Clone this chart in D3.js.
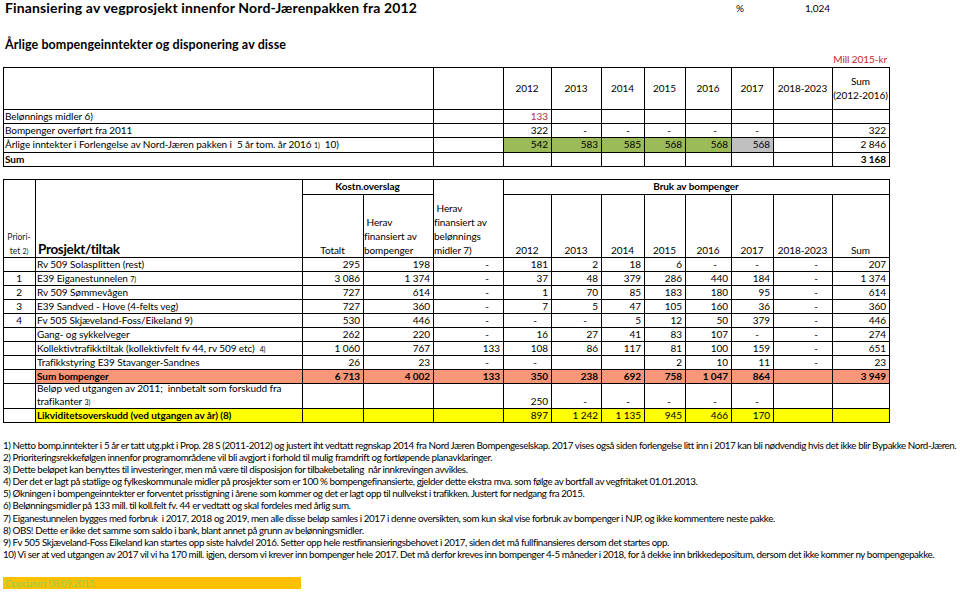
<!DOCTYPE html>
<html>
<head>
<meta charset="utf-8">
<script src="https://cdn.jsdelivr.net/npm/d3@7"></script>
<style>
  body { margin: 0; background: #fff; }
  svg { display: block; }
  text { font-family: Lato, "Open Sans", sans-serif; white-space: pre; fill: #000; }
</style>
</head>
<body>
<div id="chart"></div>
<script>
// ---- texts ----
const title = 'Finansiering av vegprosjekt innenfor Nord-Jærenpakken fra 2012';
const subtitle = 'Årlige bompengeinntekter og disponering av disse';
const percentLabel = '%';
const percentValue = '1,024';
const unitLabel = 'Mill 2015-kr';

// ---- top table: yearly toll income ----
const periods = ['2012', '2013', '2014', '2015', '2016', '2017', '2018-2023'];
const incomeSumHeader = ['Sum', '(2012-2016)'];
const incomeLabels = [
    'Belønnings midler 6)',
    'Bompenger overført fra 2011',
    'Årlige inntekter i Forlengelse av Nord-Jæren pakken i  5 år tom. år 2016 ^1)^  10)',
    'Sum'
];
// values per period + sum column; 0 is shown as "-", null is blank
const rewardIncome = [133, null, null, null, null, null, null, null];
const transferredIncome = [322, 0, 0, 0, 0, 0, null, 322];
const yearlyIncome = [542, 583, 585, 568, 568, 568, null, 2846];
const incomeTotal = [null, null, null, null, null, null, null, 3168];

// ---- bottom table: projects ----
const priorities = ['', '1', '2', '3', '4', '', '', '', '', '', ''];
const projects = [
    'Rv 509 Solasplitten (rest)',
    'E39 Eiganestunnelen ^7)^',
    'Rv 509 Sømmevågen',
    'E39 Sandved - Hove (4-felts veg)',
    'Fv 505 Skjæveland-Foss/Eikeland 9)',
    'Gang- og sykkelveger',
    'Kollektivtrafikktiltak (kollektivfelt fv 44, rv 509 etc)  ^4)^',
    'Trafikkstyring E39 Stavanger-Sandnes',
    'Sum bompenger',
    'Beløp ved utgangen av 2011;  innbetalt som forskudd fra|trafikanter ^3)^',
    'Likviditetsoverskudd (ved utgangen av år) (8)'
];
const totalCost     = [295, 3086, 727, 727, 530, 262, 1060, 26, 6713, null, null];
const tollFinanced  = [198, 1374, 614, 360, 446, 220, 767, 23, 4002, null, null];
const rewardFinanced = [0, 0, 0, 0, 0, 0, 133, 0, 133, null, null];
const use2012 = [181, 37, 1, 7, 0, 16, 108, 0, 350, 250, 897];
const use2013 = [2, 48, 70, 5, 0, 27, 86, null, 238, 0, 1242];
const use2014 = [18, 379, 85, 47, 5, 41, 117, null, 692, 0, 1135];
const use2015 = [6, 286, 183, 105, 12, 83, 81, 2, 758, 0, 945];
const use2016 = [0, 440, 180, 160, 50, 107, 100, 10, 1047, 0, 466];
const use2017 = [0, 184, 95, 36, 379, 0, 159, 11, 864, 0, 170];
const use2018to2023 = [0, 0, 0, 0, 0, 0, 0, 0, null, null, null];
const useSum = [207, 1374, 614, 360, 446, 274, 651, 23, 3949, null, null];

const costHeader = 'Kostn.overslag';
const useHeader = 'Bruk av bompenger';
const prioHeader = ['Priori-', 'tet ^2)^'];
const projectHeader = 'Prosjekt/tiltak';
const totalHeader = 'Totalt';
const tollHeader = [' Herav', 'finansiert av', 'bompenger'];
const rewardHeader = [' Herav', 'finansiert av', 'belønnings', 'midler 7)'];
const useSumHeader = 'Sum';

const footnotes = [
    '1) Netto bomp.inntekter i 5 år er tatt utg.pkt i Prop. 28 S (2011-2012) og justert iht vedtatt regnskap 2014 fra Nord Jæren Bompengeselskap. 2017 vises også siden forlengelse litt inn i 2017 kan bli nødvendig hvis det ikke blir Bypakke Nord-Jæren.',
    '2) Prioriteringsrekkefølgen innenfor programområdene vil bli avgjort i forhold til mulig framdrift og fortløpende planavklaringer.',
    '3) Dette beløpet kan benyttes til investeringer, men må være til disposisjon for tilbakebetaling  når innkrevingen avvikles.',
    '4) Der det er lagt på statlige og fylkeskommunale midler på prosjekter som er 100 % bompengefinansierte, gjelder dette ekstra mva. som følge av bortfall av vegfritaket 01.01.2013.',
    '5) Økningen i bompengeinntekter er forventet prisstigning i årene som kommer og det er lagt opp til nullvekst i trafikken. Justert for nedgang fra 2015.',
    '6) Belønningsmidler på 133 mill. til koll.felt fv. 44 er vedtatt og skal fordeles med årlig sum.',
    '7) Eiganestunnelen bygges med forbruk  i 2017, 2018 og 2019, men alle disse beløp samles i 2017 i denne oversikten, som kun skal vise forbruk av bompenger i NJP, og ikke kommentere neste pakke.',
    '8) OBS! Dette er ikke det samme som saldo i bank, blant annet på grunn av belønningsmidler.',
    '9) Fv 505 Skjæveland-Foss Eikeland kan startes opp siste halvdel 2016. Setter opp hele restfinansieringsbehovet i 2017, siden det må fullfinansieres dersom det startes opp.',
    '10) Vi ser at ved utgangen av 2017 vil vi ha 170 mill. igjen, dersom vi krever inn bompenger hele 2017. Det må derfor kreves inn bompenger 4-5 måneder i 2018, for å dekke inn brikkedepositum, dersom det ikke kommer ny bompengepakke.'
];
const updatedNote = 'Oppdatert 08.09.2015';

// ---- layout ----
const w = 960;
const h = 592;
const left = 3;
const lineColor = '#000';

const svg = d3.select('#chart')
              .append('svg')
              .attr('width', w)
              .attr('height', h);

svg.append('rect').attr('width', w).attr('height', h).attr('fill', '#fff');

// columns shared by both tables
const colKeys = ['prio', 'name', 'tot', 'toll', 'reward', ...periods, 'sum'];
const colWidths = [32, 267, 61, 70, 70, 48, 50, 43, 41, 46, 42, 59, 57];
const colEdges = d3.cumsum([left, ...colWidths]);
const xCol = d3.scaleOrdinal().domain(colKeys).range(colEdges.slice(0, -1));
const wCol = d3.scaleOrdinal().domain(colKeys).range(colWidths);
const right = colEdges[colEdges.length - 1];
const xEnd = k => xCol(k) + wCol(k);

// rows
const topKeys = ['head', 0, 1, 2, 3];
const topHeights = [42, 14, 14, 15, 14];
const topEdges = d3.cumsum([67, ...topHeights]);
const yTop = d3.scaleOrdinal().domain(topKeys).range(topEdges.slice(0, -1));
const hTop = d3.scaleOrdinal().domain(topKeys).range(topHeights);

const botKeys = ['head', ...d3.range(projects.length)];
const botHeights = [78, 14, 14, 14, 14, 14, 14, 14, 14, 14, 25, 14];
const botEdges = d3.cumsum([179, ...botHeights]);
const yBot = d3.scaleOrdinal().domain(botKeys).range(botEdges.slice(0, -1));
const hBot = d3.scaleOrdinal().domain(botKeys).range(botHeights);

// Calibri-like look: Lato a bit larger, tightened to the reference widths
const fitSpacing = (txt, target, size, weight) => {
    const t = svg.append('text').attr('font-size', size).attr('font-weight', weight || 'normal').text(txt);
    const len = t.node().getComputedTextLength();
    t.remove();
    return (target - len) / txt.length;
};
const fsBody = 10;
const lsBody = fitSpacing('Kollektivtrafikktiltak (kollektivfelt fv 44, rv 509 etc)', 218, fsBody);
const fsNote = 9.8;
const lsNote = fitSpacing(footnotes[0], 952, fsNote);
const fsTitle = 14;
const lsTitle = fitSpacing(title, 412, fsTitle, 'bold');
const fsSub = 12.5;
const lsSub = fitSpacing(subtitle, 281, fsSub, 'bold');
const fsProj = 13.5;
const lsProj = fitSpacing(projectHeader, 82, fsProj, 'bold');
const fsSmall = 7;

const fmt = v => d3.format(',')(v).replace(/,/g, ' ');

const body = sel => sel.attr('font-size', fsBody).attr('letter-spacing', lsBody);

const richText = (sel, str) => {
    str.split('^').forEach((part, i) => {
        const t = sel.append('tspan').text(part);
        if (i % 2) t.attr('font-size', fsSmall);
    });
};

const valueCell = (g, key, y, v, bold, color) => {
    if (v === null) return;
    const t = g.append('text')
               .attr('y', y)
               .call(body)
               .attr('font-weight', bold ? 'bold' : 'normal')
               .style('fill', color || '#000');
    if (v === 0) {
        t.attr('x', xEnd(key) - 16).attr('text-anchor', 'middle').text('-');
    } else {
        t.attr('x', xEnd(key) - 3).attr('text-anchor', 'end').text(fmt(v));
    }
};

const hline = (g, x1, x2, y) => g.append('line')
    .attr('x1', x1).attr('x2', x2 + 1).attr('y1', y + 0.5).attr('y2', y + 0.5)
    .attr('stroke', lineColor).attr('stroke-width', 1).attr('shape-rendering', 'crispEdges');
const vline = (g, x, y1, y2) => g.append('line')
    .attr('x1', x + 0.5).attr('x2', x + 0.5).attr('y1', y1).attr('y2', y2 + 1)
    .attr('stroke', lineColor).attr('stroke-width', 1).attr('shape-rendering', 'crispEdges');

// ---- title block ----
svg.append('text').attr('x', 5).attr('y', 13).attr('font-size', fsTitle).attr('letter-spacing', lsTitle)
   .attr('font-weight', 'bold').text(title);
svg.append('text').attr('x', 5).attr('y', 49).attr('font-size', fsSub).attr('letter-spacing', lsSub)
   .attr('font-weight', 'bold').text(subtitle);
svg.append('text').attr('x', 736).attr('y', 12).call(body).text(percentLabel);
svg.append('text').attr('x', 830).attr('y', 12).attr('text-anchor', 'end').call(body).text(percentValue);
svg.append('text').attr('x', right - 2).attr('y', 63).attr('text-anchor', 'end').call(body)
   .style('fill', '#c0272d').text(unitLabel);

// ---- top table ----
const topG = svg.append('g');
const incomeRows = [rewardIncome, transferredIncome, yearlyIncome, incomeTotal];
const valueKeys = [...periods, 'sum'];

// fills on the yearly income row
periods.slice(0, 6).forEach((p, i) => {
    topG.append('rect')
        .attr('x', xCol(p)).attr('y', yTop(2))
        .attr('width', wCol(p)).attr('height', hTop(2))
        .attr('fill', i < 5 ? '#9bbb59' : '#c0c0c0');
});

periods.forEach(p => {
    topG.append('text').attr('x', xCol(p) + wCol(p) / 2).attr('y', yTop('head') + 25)
        .attr('text-anchor', 'middle').call(body).text(p);
});
incomeSumHeader.forEach((s, i) => {
    topG.append('text').attr('x', xCol('sum') + wCol('sum') / 2).attr('y', yTop('head') + 18 + i * 14)
        .attr('text-anchor', 'middle').call(body).text(s);
});

incomeLabels.forEach((lab, r) => {
    const t = topG.append('text').attr('x', left + 2).attr('y', yTop(r) + 11)
                  .call(body).attr('font-weight', r === 3 ? 'bold' : 'normal');
    richText(t, lab);
    incomeRows[r].forEach((v, c) => {
        valueCell(topG, valueKeys[c], yTop(r) + 11, v, r === 3, r === 0 ? '#b0303a' : null);
    });
});

topEdges.forEach(y => hline(topG, left, right, y));
[left, xCol('reward'), ...valueKeys.map(k => xCol(k)), right].forEach(x => vline(topG, x, topEdges[0], topEdges[topEdges.length - 1]));

// ---- bottom table ----
const botG = svg.append('g');
const sumRow = 8;
const cashRow = 10;
const useCols = [use2012, use2013, use2014, use2015, use2016, use2017, use2018to2023, useSum];
const botColumns = [
    ['tot', totalCost], ['toll', tollFinanced], ['reward', rewardFinanced],
    ...valueKeys.map((k, i) => [k, useCols[i]])
];

[[sumRow, '#f79679'], [cashRow, '#ffff00']].forEach(([r, c]) => {
    botG.append('rect')
        .attr('x', xCol('name')).attr('y', yBot(r))
        .attr('width', right - xCol('name')).attr('height', hBot(r))
        .attr('fill', c);
});

// header texts
const yH = yBot('head');
const headBase = yH + 75;
botG.append('text').attr('x', xCol('tot') + (xEnd('toll') - xCol('tot')) / 2).attr('y', yH + 11)
    .attr('text-anchor', 'middle').call(body).attr('font-weight', 'bold').text(costHeader);
botG.append('text').attr('x', xCol('2012') + (right - xCol('2012')) / 2).attr('y', yH + 11)
    .attr('text-anchor', 'middle').call(body).attr('font-weight', 'bold').text(useHeader);
prioHeader.forEach((s, i) => {
    const t = botG.append('text').attr('x', xCol('prio') + wCol('prio') / 2).attr('y', headBase - 14 + i * 14)
                  .attr('text-anchor', 'middle').attr('font-size', 8.5).style('fill', '#222');
    richText(t, s);
});
botG.append('text').attr('x', xCol('name') + 3).attr('y', headBase)
    .attr('font-size', fsProj).attr('letter-spacing', lsProj).attr('font-weight', 'bold').text(projectHeader);
botG.append('text').attr('x', xCol('tot') + wCol('tot') / 2).attr('y', headBase)
    .attr('text-anchor', 'middle').call(body).text(totalHeader);
tollHeader.forEach((s, i) => {
    botG.append('text').attr('x', xCol('toll') + 1).attr('y', headBase - (tollHeader.length - 1 - i) * 14)
        .call(body).text(s);
});
rewardHeader.forEach((s, i) => {
    botG.append('text').attr('x', xCol('reward') + 1).attr('y', headBase - (rewardHeader.length - 1 - i) * 14)
        .call(body).text(s);
});
periods.forEach(p => {
    botG.append('text').attr('x', xCol(p) + wCol(p) / 2).attr('y', headBase)
        .attr('text-anchor', 'middle').call(body).text(p);
});
botG.append('text').attr('x', xCol('sum') + wCol('sum') / 2).attr('y', headBase)
    .attr('text-anchor', 'middle').call(body).text(useSumHeader);

// body rows
projects.forEach((name, r) => {
    const base = yBot(r) + hBot(r) - 3;
    const lines = name.split('|');
    lines.forEach((ln, i) => {
        const t = botG.append('text').attr('x', xCol('name') + 2)
                      .attr('y', base - (lines.length - 1 - i) * 13)
                      .call(body)
                      .attr('font-weight', r === sumRow || r === cashRow ? 'bold' : 'normal');
        richText(t, ln);
    });
    if (priorities[r]) {
        botG.append('text').attr('x', xCol('prio') + wCol('prio') / 2).attr('y', base)
            .attr('text-anchor', 'middle').call(body).text(priorities[r]);
    }
    botColumns.forEach(([k, arr]) => valueCell(botG, k, base, arr[r], r === sumRow));
});

// grid
const yB0 = botEdges[0];
const yB1 = botEdges[botEdges.length - 1];
const ySub = yB0 + 15;
hline(botG, left, right, yB0);
hline(botG, xCol('tot'), xCol('reward'), ySub);
hline(botG, xCol('2012'), right, ySub);
botEdges.slice(1).forEach(y => hline(botG, left, right, y));
[left, xCol('name'), xCol('tot'), xCol('reward'), xCol('2012'), right].forEach(x => vline(botG, x, yB0, yB1));
[xCol('toll'), ...valueKeys.slice(1).map(k => xCol(k))].forEach(x => vline(botG, x, ySub, yB1));

// ---- footnotes ----
const noteG = svg.append('g');
footnotes.forEach((n, i) => {
    noteG.append('text').attr('x', left).attr('y', 448.5 + i * 12.17)
         .attr('font-size', fsNote).attr('letter-spacing', lsNote).text(n);
});
noteG.append('rect').attr('x', left).attr('y', 577).attr('width', 298).attr('height', 12).attr('fill', '#ffc000');
noteG.append('text').attr('x', left + 2).attr('y', 587).attr('font-size', fsNote).attr('letter-spacing', lsNote)
     .style('fill', '#92d050').text(updatedNote);
</script>
</body>
</html>
